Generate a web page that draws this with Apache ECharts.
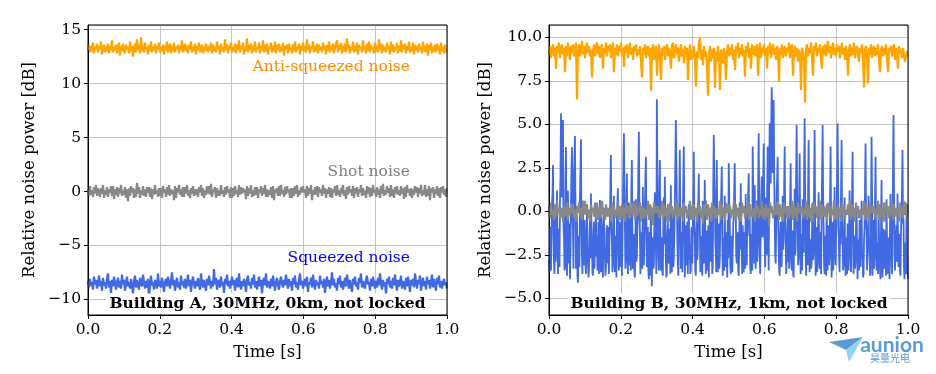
<!DOCTYPE html>
<html>
<head>
<meta charset="utf-8">
<script src="https://cdn.jsdelivr.net/npm/echarts@6/dist/echarts.min.js"></script>
<style>html,body{margin:0;padding:0;background:#fff;}#c{width:936px;height:374px;}</style>
</head>
<body>
<div id="c"></div>
<script>
// ---------- data ----------
const xTicks = [0, 0.2, 0.4, 0.6, 0.8, 1.0];
const yTicksA = [-10, -5, 0, 5, 10, 15];
const yTicksB = [-5, -2.5, 0, 2.5, 5, 7.5, 10];

// Building A – anti-squeezed noise [dB]
const antiA = [
13.1,13.6,12.9,13.5,13.0,13.8,12.8,13.4,13.2,13.7,12.9,13.5,
13.2,13.9,12.7,13.3,13.6,12.9,13.4,13.0,13.7,12.8,13.5,13.1,
14.0,12.9,13.4,13.1,13.6,12.8,13.3,13.8,12.6,13.5,13.0,13.7,
13.1,12.8,13.6,13.2,13.4,12.8,13.9,13.0,13.5,12.5,13.3,13.7,
12.9,14.1,13.1,13.6,12.8,14.3,13.0,13.5,12.9,13.8,13.2,13.4,
12.7,13.6,13.0,13.9,12.9,13.4,13.1,13.7,12.8,13.5,13.2,13.8,
12.9,13.4,13.0,13.6,12.7,13.5,13.1,13.9,12.9,13.3,13.7,12.8,
13.5,13.0,13.8,12.9,13.4,13.2,13.6,12.8,13.5,13.1,14.0,12.9,
13.3,13.7,13.0,13.5,12.8,13.6,13.2,13.9,12.9,13.4,13.0,13.7,
12.7,13.5,13.1,13.8,12.9,13.3,13.6,12.8,13.4,13.0,13.7,13.2,
12.9,13.5,13.1,13.8,12.8,13.6,13.0,13.4,12.9,13.9,13.2,13.5,
12.7,13.7,13.0,13.4,12.9,14.1,13.1,13.6,12.8,13.5,13.2,13.8,
12.9,13.4,13.0,13.7,12.8,13.6,13.1,14.0,12.9,13.5,13.2,13.8,
12.7,13.4,13.0,14.2,12.9,13.6,13.1,13.7,12.8,13.5,13.0,13.9,
12.9,13.4,13.2,13.8,12.8,13.5,13.1,14.0,12.9,13.6,13.0,13.7,
12.7,13.4,13.2,13.8,12.9,13.5,13.0,13.9,12.8,13.6,13.1,13.7,
12.9,13.4,13.0,13.8,12.6,13.5,13.2,13.6,12.8,13.7,13.1,13.3,
12.8,13.6,13.0,13.9,12.9,13.4,13.2,13.7,12.7,13.5,13.1,13.8,
13.0,13.5,12.9,14.1,13.1,13.6,12.8,13.4,13.2,13.9,12.9,13.5,
13.0,13.7,12.8,13.6,13.1,13.4,12.9,13.8,13.2,13.5,12.7,13.6,
13.0,13.9,12.9,13.5,13.1,13.7,12.8,13.4,13.3,14.0,12.9,13.6,
13.1,13.8,12.8,13.5,13.0,13.7,12.9,14.2,13.2,13.6,12.8,13.4,
13.1,13.9,12.9,13.5,13.0,13.8,12.7,13.6,13.2,13.4,12.9,14.0,
13.1,13.5,12.8,13.7,13.0,13.9,12.9,13.6,13.2,13.4,12.8,13.8,
13.0,13.5,12.9,14.1,13.1,13.7,12.8,13.6,13.0,13.4,12.9,13.8,
13.2,13.5,12.7,13.9,13.0,13.6,12.9,13.4,13.1,13.8,12.8,13.5,
13.0,14.0,12.9,13.6,13.2,13.7,12.8,13.5,13.1,13.9,12.9,13.4,
13.0,13.8,12.7,13.6,13.1,13.5,12.9,13.7,13.2,13.4,12.8,13.9,
13.0,13.5,12.9,13.7,12.6,13.6,13.1,13.8,12.8,13.4,13.0,13.6,
12.9,13.7,13.1,13.5,12.7,13.8,13.0,13.4,12.8,13.6,12.9,13.2];

// Building A – shot noise [dB]
const shotA = [
0.2,-0.4,0.5,-0.3,0.1,-0.5,0.4,-0.2,0.6,-0.4,0.3,-0.1,
-0.5,0.3,-0.2,0.6,-0.6,0.1,-0.3,0.4,-0.5,0.2,-0.1,0.5,
-0.4,0.5,-0.7,0.2,-0.3,0.4,-0.5,0.3,-0.2,0.6,-0.4,0.1,
-0.3,0.4,-0.6,0.2,-0.9,0.3,-0.4,0.5,-0.1,0.3,-0.6,0.2,
-0.5,0.8,-0.2,0.4,-0.6,0.1,-0.3,0.5,-0.4,0.2,-0.5,0.4,
-0.1,0.4,-0.5,0.3,-0.7,0.2,-0.3,0.6,-0.2,0.1,-0.5,0.3,
-0.4,0.3,-0.6,0.5,-0.1,0.2,-0.5,0.4,-0.3,0.6,-0.4,0.2,
-0.2,0.1,-0.8,0.5,-0.6,0.3,-0.1,0.6,-0.3,0.2,-0.5,0.4,
-0.5,0.4,-0.2,0.6,-0.4,0.1,-0.6,0.3,-0.2,0.5,-0.4,0.2,
-0.3,0.2,-0.5,0.4,-0.1,0.6,-0.4,0.3,-0.6,0.1,-0.3,0.5,
-0.2,0.5,-0.3,0.7,-0.5,0.2,-0.1,0.4,-0.6,0.3,-0.4,0.1,
-0.4,0.6,-0.2,0.1,-0.5,0.4,-0.3,0.5,-0.1,0.2,-0.6,0.4,
-0.6,0.3,-0.4,0.5,-0.2,0.1,-0.5,0.6,-0.3,0.4,-0.2,0.3,
-0.1,0.2,-0.7,0.5,-0.4,0.3,-0.2,0.6,-0.5,0.1,-0.4,0.4,
-0.3,0.4,-0.6,0.2,-0.1,0.5,-0.4,0.3,-0.2,0.6,-0.5,0.2,
-0.5,0.1,-0.3,0.4,-0.6,0.5,-0.8,0.2,-0.1,0.3,-0.4,0.5,
-0.4,0.6,-0.2,0.1,-0.5,0.4,-0.3,0.5,-0.1,0.2,-0.6,0.3,
-0.6,0.3,-0.4,0.5,-0.2,0.6,-0.5,0.1,-0.3,0.4,-0.1,0.5,
-0.1,0.2,-0.6,0.5,-0.4,0.3,-0.2,0.6,-0.8,0.1,-0.3,0.4,
-0.3,0.5,-0.5,0.4,-0.1,0.2,-0.4,0.6,-0.2,0.3,-0.6,0.2,
-0.2,0.4,-0.5,0.3,-0.6,0.2,-0.1,0.5,-0.4,0.6,-0.3,0.1,
-0.5,0.3,-0.2,0.6,-0.4,0.1,-0.7,0.4,-0.3,0.5,-0.1,0.2,
-0.4,0.5,-0.6,0.3,-0.2,0.4,-0.5,0.2,-0.1,0.6,-0.4,0.3,
-0.3,0.1,-0.6,0.5,-0.2,0.4,-0.5,0.3,-0.4,0.6,-0.1,0.2,
-0.5,0.4,-0.3,0.2,-0.6,0.5,-0.2,0.7,-0.4,0.1,-0.3,0.5,
-0.1,0.3,-0.5,0.6,-0.4,0.2,-0.6,0.4,-0.2,0.5,-0.3,0.1,
-0.4,0.5,-0.2,0.3,-0.7,0.4,-0.5,0.6,-0.1,0.2,-0.4,0.3,
-0.6,0.2,-0.3,0.5,-0.1,0.4,-0.5,0.3,-0.2,0.6,-0.4,0.1,
-0.3,0.6,-0.5,0.2,-0.4,0.5,-0.8,0.3,-0.1,0.4,-0.6,0.2,
-0.2,0.5,-0.4,0.3,-0.6,0.4,-0.1,0.5,-0.3,0.2,-0.5,0.3];

// Building A – squeezed noise [dB]
const sqzA = [
-8.3,-8.9,-8.1,-8.7,-8.4,-9.1,-7.9,-8.6,-8.2,-9.0,-8.5,-7.8,
-8.8,-8.3,-9.2,-8.0,-8.7,-8.4,-9.0,-8.1,-7.6,-8.9,-8.3,-9.4,
-8.2,-8.8,-7.9,-8.5,-9.1,-8.4,-8.0,-8.9,-8.3,-9.0,-7.7,-8.6,
-8.2,-9.2,-8.5,-7.9,-8.8,-8.4,-9.0,-8.1,-8.7,-9.5,-8.3,-7.8,
-8.9,-8.2,-8.7,-9.1,-8.0,-8.5,-8.8,-7.7,-8.4,-9.0,-8.3,-8.9,
-8.1,-10.0,-8.6,-7.8,-8.7,-8.4,-9.1,-8.2,-8.5,-9.0,-7.6,-8.8,
-8.3,-8.9,-8.0,-8.6,-9.3,-8.4,-8.1,-8.8,-7.9,-8.5,-9.0,-8.3,
-7.5,-8.7,-8.2,-9.2,-8.6,-8.0,-8.9,-8.4,-9.1,-7.8,-8.7,-8.3,
-8.9,-8.1,-9.0,-8.5,-7.7,-8.8,-8.2,-9.3,-8.4,-7.9,-8.6,-9.0,
-8.3,-8.8,-8.0,-8.7,-9.1,-7.6,-8.5,-8.9,-8.2,-8.6,-9.2,-8.1,
-8.7,-7.8,-8.4,-9.0,-8.3,-8.8,-7.2,-8.6,-8.0,-9.1,-8.5,-8.2,
-8.9,-7.9,-8.7,-8.4,-9.4,-8.1,-8.6,-7.7,-8.8,-8.3,-9.0,-8.5,
-7.9,-8.7,-8.2,-9.2,-8.4,-8.0,-8.9,-7.6,-8.6,-9.1,-8.3,-8.8,
-8.1,-8.5,-9.3,-8.2,-7.8,-8.7,-8.4,-9.0,-8.0,-8.6,-7.7,-8.9,
-8.3,-9.1,-8.5,-7.9,-8.8,-8.2,-9.5,-8.4,-8.0,-8.7,-7.6,-8.9,
-8.3,-8.6,-9.0,-8.1,-8.8,-7.8,-8.5,-9.2,-8.4,-8.0,-8.7,-9.1,
-8.3,-7.9,-8.6,-8.9,-8.2,-8.7,-7.7,-8.5,-9.0,-8.1,-8.8,-8.3,
-9.2,-8.0,-8.6,-7.8,-8.9,-8.4,-9.1,-8.2,-7.6,-8.7,-8.3,-9.0,
-8.5,-8.1,-8.8,-7.9,-9.3,-8.4,-8.6,-8.0,-8.9,-7.7,-8.5,-9.1,
-8.2,-8.7,-8.4,-9.0,-7.8,-8.6,-8.3,-8.9,-8.1,-9.4,-8.5,-7.9,
-8.8,-8.2,-9.0,-8.4,-7.5,-8.7,-8.1,-8.9,-8.5,-9.2,-8.0,-8.6,
-7.8,-8.9,-8.3,-9.1,-8.6,-8.0,-8.8,-7.7,-8.4,-9.0,-8.2,-8.7,
-9.3,-8.1,-8.6,-7.9,-8.8,-8.4,-9.1,-8.0,-8.5,-7.6,-8.9,-8.3,
-8.7,-9.0,-8.2,-7.8,-8.6,-8.4,-9.2,-8.1,-8.8,-7.9,-8.5,-9.0,
-8.3,-8.9,-8.0,-8.7,-7.6,-8.5,-9.1,-8.2,-8.8,-8.4,-9.6,-8.1,
-8.6,-7.9,-8.9,-8.3,-9.0,-8.0,-8.7,-7.7,-8.5,-9.2,-8.2,-8.8,
-8.4,-7.8,-9.0,-8.3,-8.6,-9.1,-8.0,-8.8,-7.9,-8.5,-9.3,-8.2,
-8.7,-8.1,-8.9,-7.6,-8.4,-9.0,-8.2,-8.6,-7.8,-9.2,-8.5,-8.0,
-8.8,-8.3,-9.1,-7.9,-8.6,-8.2,-9.0,-8.4,-7.7,-8.9,-8.1,-8.7,
-9.2,-8.0,-8.6,-7.8,-8.9,-8.3,-9.0,-8.5,-8.1,-8.7,-8.4,-9.0];

// Building B – anti-squeezed noise [dB]
const antiB = [
9.0,9.5,8.8,9.3,9.6,8.9,9.4,8.2,9.5,9.1,9.7,8.8,
9.3,9.6,9.0,9.4,8.0,9.5,8.9,9.7,9.2,8.7,9.5,9.1,
9.6,8.9,9.3,9.7,6.45,9.2,9.6,8.9,9.4,9.8,9.0,9.5,
8.8,9.4,9.7,9.1,9.5,8.9,9.3,7.7,9.2,9.6,8.9,9.4,
9.7,9.0,9.5,8.8,9.3,9.6,8.2,9.4,9.1,9.7,8.9,9.5,
9.2,9.6,8.8,9.3,9.7,8.0,9.4,9.0,9.6,8.9,9.5,9.2,
9.7,8.9,9.4,8.3,9.5,9.1,9.6,8.8,9.3,9.7,9.0,9.4,
8.7,9.5,9.2,9.6,8.9,9.3,9.0,9.5,8.6,7.7,9.4,9.0,
9.6,8.8,9.3,9.5,8.9,9.4,6.93,9.2,9.6,8.7,9.3,9.5,
7.8,9.1,9.6,8.8,7.55,9.4,9.0,9.5,8.7,9.3,9.6,8.9,
9.4,9.1,8.2,9.5,9.7,8.8,9.3,9.6,9.0,9.4,8.6,9.2,
9.6,8.9,9.3,8.5,9.5,9.0,9.4,7.55,9.1,9.6,8.7,9.3,
8.8,9.5,8.5,7.16,9.2,8.8,9.6,10.0,8.7,9.3,8.4,9.5,
8.9,9.2,8.3,6.64,9.1,9.5,8.6,9.3,8.8,9.4,7.09,9.2,
8.6,9.5,8.9,6.97,9.3,9.0,8.5,9.4,8.8,7.55,9.2,9.6,
8.9,9.4,9.0,9.6,8.7,9.3,8.12,9.5,9.1,9.7,8.8,9.4,
9.0,9.6,8.9,9.3,7.74,9.5,9.1,9.7,8.8,9.4,8.2,9.6,
9.0,9.5,8.9,9.3,9.6,7.8,9.2,9.7,8.8,9.4,9.1,9.6,
8.9,9.4,8.2,9.5,9.1,9.7,8.8,9.3,9.6,9.0,9.4,8.7,
9.5,9.2,7.45,9.4,9.0,9.6,8.8,9.3,9.5,8.9,9.4,9.1,
9.7,8.8,9.3,9.6,7.8,9.2,9.5,8.9,9.4,8.6,9.3,9.0,
6.97,9.4,9.1,8.7,6.26,9.3,9.6,8.9,9.4,9.1,9.7,8.8,
7.8,9.5,9.2,9.7,8.9,9.4,9.1,9.6,8.8,8.2,9.5,9.0,
9.6,8.9,9.4,9.8,9.1,9.5,8.8,9.3,9.7,9.0,9.4,8.9,
9.6,9.2,9.5,8.8,9.3,9.7,9.0,9.4,8.7,9.5,9.1,7.8,
9.3,9.6,8.9,9.4,9.0,9.7,8.8,9.3,9.5,9.0,8.6,9.4,
9.1,9.6,8.8,7.1,9.3,9.5,8.9,7.35,9.4,9.0,9.6,8.8,
9.3,9.5,8.9,9.4,9.0,9.6,8.7,8.0,9.3,9.5,8.9,9.4,
9.0,9.6,8.8,8.0,9.4,9.2,9.5,8.9,9.3,9.6,8.7,9.4,
9.0,8.2,9.5,9.1,9.3,8.8,9.4,9.0,8.6,8.5,9.2,8.9];

// Building B – squeezed noise [dB]
const sqzB = [
-2.8,-3.5,-0.9,-2.0,-3.4,-1.2,0.4,1.0,2.66,-1.5,-3.0,-3.6,-0.3,-2.9,-2.2,-0.5,1.2,-2.4,-3.6,-1.7,-1.0,-3.2,0.6,2.0,
5.63,3.1,0.8,4.0,5.25,-0.8,-1.5,-3.4,-3.2,1.5,3.7,-2.3,-3.7,-1.1,1.2,-3.0,-2.6,-0.7,-3.9,-2.1,0.3,2.5,3.7,-0.4,
-1.0,-3.3,2.2,3.0,4.33,0.5,-3.3,-1.6,-0.2,-3.7,-4.1,-2.5,-1.4,-3.2,0.9,2.4,4.14,-0.9,-2.5,-3.6,0.6,-1.9,-3.1,-0.5,
-1.8,-3.0,-3.6,-1.2,0.4,-2.5,-2.9,-3.8,-3.4,-1.4,-0.5,-2.7,1.03,-0.8,-2.0,-3.5,-3.7,-1.6,-0.6,-3.3,-3.2,-1.0,0.1,-2.6,
-1.4,-3.4,-2.7,-0.6,-3.6,-1.9,0.65,-2.2,-3.5,-0.3,-1.1,-3.1,-3.8,-1.5,0.2,-2.8,-2.4,-3.7,-3.3,-1.3,-0.8,-2.5,-3.0,-0.9,
-3.6,-1.8,-0.4,1.6,3.24,-0.9,-1.6,-3.5,-3.0,-0.7,0.9,-2.6,-3.5,-1.4,-2.2,-3.8,-0.4,0.5,1.32,-2.3,-3.4,-0.6,-1.2,-3.2,
-1.9,-0.5,-3.7,-2.0,0.5,2.9,4.48,1.5,-0.7,-3.3,-2.8,0.4,2.18,-1.8,-3.6,-1.0,0.5,-3.1,-2.1,-0.4,-3.4,1.2,2.95,-1.5,
-3.3,-2.0,-1.3,-3.5,-3.8,-1.6,0.7,-2.9,-2.6,-0.9,-0.4,2.6,4.58,0.8,-1.0,-3.6,-3.5,-1.2,-2.0,-3.3,1.4,-0.6,-3.1,-1.9,
-0.2,1.8,3.14,-0.7,-3.2,-1.8,-0.9,-3.4,-3.9,-1.2,-2.4,-3.7,0.3,-2.6,-4.3,-1.5,-1.7,-3.3,-3.1,-0.4,1.1,-2.2,-2.0,-3.6,
6.44,2.5,-0.3,-2.6,-3.4,0.9,2.95,-1.2,-3.4,-2.1,-1.5,-3.5,-3.7,-0.8,0.8,-1.9,1.99,-0.5,-2.7,-3.8,-3.6,-1.4,-0.6,-3.0,
-3.0,-1.0,-1.8,-3.6,1.5,-2.3,-3.5,-0.9,-0.2,-3.2,-2.7,-1.3,0.4,2.8,5.25,3.0,1.0,-1.6,-2.9,-3.7,-1.1,0.7,3.52,-0.9,
-3.3,-2.1,-1.2,-3.5,-0.5,1.9,3.72,-1.0,-3.8,-2.4,-0.8,-3.1,-2.5,-0.6,-3.6,-1.7,0.4,-2.8,-2.0,-3.6,-3.4,-1.1,-0.9,-3.0,
-3.1,0.8,3.43,-0.6,-1.6,-3.4,-3.7,-1.5,-0.3,-2.8,-2.2,0.4,2.18,-1.1,-0.4,-3.5,-3.3,-1.4,-2.2,-3.7,0.6,-1.8,-3.0,-0.7,
1.8,-1.3,-3.6,-2.2,-1.1,-3.4,-3.0,-0.8,-3.8,-1.9,0.2,-2.9,-2.6,-0.5,-1.4,-3.6,-3.2,1.5,4.39,2.0,1.2,-1.7,-2.4,-3.5,
2.95,-0.6,-3.5,-1.6,-0.7,-3.3,-2.8,-0.9,-1.0,1.1,2.57,-1.4,-3.7,-2.0,-1.5,-3.4,0.9,-2.5,-3.2,-1.2,-2.3,-3.8,-0.5,-2.7,
2.76,0.6,-0.5,-3.1,-3.6,-1.4,-1.9,-3.5,-3.4,-0.8,-0.2,1.3,2.76,-0.4,0.3,-2.6,-3.0,-1.6,-1.2,-3.4,-3.7,-1.9,0.5,-2.2,
1.61,-1.0,-2.4,-3.6,-0.8,-2.7,-3.5,-1.2,-1.7,-3.3,1.0,-1.9,-3.1,-0.9,-0.6,1.1,2.18,-1.4,-0.2,-3.2,-3.6,-2.1,-1.3,-3.4,
3.72,0.9,-1.4,-3.0,1.5,-1.8,-3.3,-0.7,0.6,-2.9,-2.0,1.9,4.48,0.3,-2.7,-3.6,-0.9,0.8,2.0,-1.3,-1.5,1.6,3.9,0.4,
-1.8,-3.2,0.8,-1.5,-2.5,1.2,3.72,-0.9,-3.4,2.0,5.06,3.0,1.6,4.8,7.13,4.5,2.2,5.1,6.4,2.1,-0.5,-2.6,-3.0,-1.1,
1.2,2.0,3.14,-0.5,-2.1,-3.4,-3.7,-1.3,-0.6,-2.7,-3.2,-0.9,0.9,-2.2,-1.6,1.4,3.72,-0.3,-1.5,-3.6,-3.5,-1.7,-0.4,-2.9,
-0.3,-3.3,-2.8,0.5,2.76,-1.2,-3.4,-2.2,-1.1,-3.6,-3.8,-1.0,1.3,-2.5,-2.2,2.4,4.96,1.0,-0.8,-3.1,-2.6,0.8,3.33,-1.4,
-3.6,-2.0,-1.3,-3.4,0.7,-1.5,-2.4,2.6,5.34,1.0,-2.2,-3.7,-0.4,-2.6,-3.1,1.6,4.1,-0.8,-3.5,-1.9,-1.6,-3.3,-3.0,-0.6,
0.5,-2.8,-2.4,1.9,4.67,-0.4,-3.7,-1.6,-0.9,-3.5,-2.9,-0.7,1.1,-2.4,-3.3,-1.2,-1.5,-3.6,-0.2,2.2,4.96,0.9,-1.0,-3.2,
-3.6,-1.4,-2.0,-3.7,0.4,-1.9,-3.4,-0.8,-1.2,-3.1,-2.6,0.9,3.72,-1.1,-3.8,-2.2,-0.6,-3.4,-2.7,-0.9,1.4,-2.0,-3.1,-1.5,
-0.9,2.1,5.06,1.3,-0.2,-2.8,-3.5,-1.0,-1.9,1.5,4.1,-0.6,-1.7,-3.4,-3.0,-0.9,0.8,-2.4,-3.7,-1.5,-2.3,-3.6,-0.7,-2.9,
-3.4,-1.2,1.2,-2.0,-2.6,-3.5,-0.8,1.0,3.43,-0.7,-3.6,-2.3,-1.4,-3.3,-2.8,-0.6,0.3,-2.1,-3.9,-1.6,-1.9,-3.4,-0.5,-2.8,
-3.2,-1.3,0.6,-2.7,-2.5,-3.8,-3.6,-1.5,-1.0,1.6,3.9,-0.5,-1.1,-3.4,-3.3,-1.8,0.9,-2.3,-2.0,-3.7,-3.5,0.2,4.29,1.1,
-3.7,-2.1,-0.5,-3.3,-2.6,0.6,3.14,-1.2,-3.4,-2.5,-1.8,-3.6,0.4,-1.4,-2.4,-3.5,-3.9,-0.8,1.8,-1.7,-3.8,-2.6,-1.0,-3.3,
-3.0,-1.1,-2.2,-3.7,0.7,-1.8,-3.6,-2.4,-1.5,-3.2,-3.9,-0.9,1.0,-2.1,-2.8,-3.6,-0.6,2.5,5.54,1.2,-2.4,-3.4,-3.5,-1.3,
-0.8,-2.9,1.03,-1.6,-3.2,-2.2,-1.3,-3.5,-3.7,-1.0,-0.2,1.2,3.52,-0.7,-0.4,-3.3,-3.9,-1.8,-2.1,-3.6,0.2,-2.4,-3.6,-3.9];

// Building B – shot noise [dB]
const shotB = [
0.3,-0.4,0.5,-0.2,0.1,-0.5,0.4,-0.3,0.6,-0.1,0.2,-0.4,
-0.3,0.2,-0.6,0.3,0.0,-0.3,0.5,-0.5,0.2,-0.2,0.4,-0.1,
0.4,-0.4,0.1,-0.6,0.3,-0.1,0.5,-0.3,0.2,-0.5,0.6,-0.2,
0.6,-0.2,0.3,-0.4,0.1,-0.6,0.4,-0.1,0.2,-0.3,0.5,-0.4,
0.5,-0.5,0.0,0.3,-0.4,0.6,-0.2,0.1,-0.5,0.4,-0.3,0.2,
-0.3,0.2,-0.6,0.5,-0.1,0.3,-0.4,0.1,-0.2,0.6,-0.5,0.3,
-0.5,0.4,-0.3,0.2,-0.6,0.5,-0.1,0.3,-0.4,0.1,-0.2,0.5,
-0.2,0.6,-0.5,0.4,-0.3,0.2,-0.1,0.5,-0.6,0.3,-0.4,0.2,
-0.4,0.1,-0.2,0.6,-0.5,0.4,-0.3,0.2,-0.8,0.5,-0.1,0.3,
-0.1,0.3,-0.4,0.1,-0.2,0.6,-0.5,0.4,-0.3,0.2,-0.6,0.4,
-0.6,0.5,-0.1,0.3,-0.4,0.1,-0.2,0.6,-0.5,0.4,-0.3,0.2,
-0.3,0.2,-0.6,0.5,-0.1,0.3,-0.4,0.1,-0.2,0.6,-0.5,0.3,
-0.5,0.4,-0.3,0.2,-0.6,0.5,-0.1,0.3,-0.4,0.1,-0.7,0.4,
-0.2,0.6,-0.5,0.4,-0.3,0.2,-0.6,0.5,-0.1,0.3,-0.4,0.2,
-0.4,0.1,-0.2,0.6,-0.5,0.4,-0.3,0.2,-0.6,0.5,-0.1,0.4,
-0.1,0.3,-0.4,0.1,-0.2,0.6,-0.5,0.4,-0.3,0.2,-0.5,0.3,
-0.6,0.5,-0.1,0.3,-0.4,0.1,-0.2,0.6,-0.5,0.4,-0.3,0.1,
-0.3,0.2,-0.6,0.5,-0.1,0.3,-0.4,0.1,-0.2,0.6,-0.4,0.2,
-0.5,0.4,-0.3,0.2,-0.8,0.5,-0.1,0.3,-0.4,0.1,-0.2,0.5,
-0.2,0.6,-0.5,0.4,-0.3,0.2,-0.6,0.5,-0.1,0.3,-0.4,0.3,
-0.4,0.1,-0.2,0.6,-0.5,0.4,-0.3,0.2,-0.6,0.5,-0.1,0.2,
-0.1,0.3,-0.4,0.1,-0.2,0.6,-0.5,0.4,-0.3,0.2,-0.6,0.4,
-0.6,0.5,-0.1,0.3,-0.4,0.1,-0.2,0.6,-0.5,0.4,-0.3,0.3,
-0.3,0.2,-0.6,0.5,-0.1,0.3,-0.4,0.1,-0.2,0.6,-0.5,0.2,
-0.5,0.4,-0.3,0.2,-0.6,0.5,-0.1,0.3,-0.4,0.1,-0.2,0.4,
-0.2,0.6,-0.5,0.4,-0.3,0.2,-0.6,0.5,-0.1,0.3,-0.4,0.1,
-0.4,0.1,-0.2,0.6,-0.5,0.4,-0.3,0.2,-0.6,0.5,-0.1,0.3,
-0.1,0.3,-0.4,0.1,-0.2,0.6,-0.5,0.4,-0.3,0.2,-0.6,0.5,
-0.6,0.5,-0.1,0.3,-0.4,0.1,-0.2,0.6,-0.5,0.4,-0.3,0.2,
-0.3,0.2,-0.6,0.5,-0.1,0.3,-0.4,0.6,-0.2,0.5,-0.4,0.4];

const labelsA = ['Anti-squeezed noise', 'Shot noise', 'Squeezed noise'];
const titleA = 'Building A, 30MHz, 0km, not locked';
const titleB = 'Building B, 30MHz, 1km, not locked';

// ---------- build ----------
const FONT = 'DejaVu Serif';
const FS = 15.5;
const NFS = 16.5;
function pairs(vals) {
  const n = vals.length;
  return vals.map((v, i) => [i / (n - 1), v]);
}
function minusFmt(dec) {
  return function (v) {
    const s = Math.abs(v).toFixed(dec);
    return v < 0 ? '\u2212' + s : s;
  };
}
function xAxis(gi) {
  return {
    type: 'value', gridIndex: gi, min: xTicks[0], max: xTicks[xTicks.length - 1], interval: xTicks[1] - xTicks[0],
    name: 'Time [s]', nameLocation: 'middle', nameGap: 29,
    nameTextStyle: { fontFamily: FONT, fontSize: NFS, color: '#000' },
    axisLine: { show: true, onZero: false, lineStyle: { color: '#000', width: 1 } },
    axisTick: { show: true, inside: false, length: 4, lineStyle: { color: '#000' } },
    axisLabel: { fontFamily: FONT, fontSize: FS, color: '#000', margin: 7, formatter: v => v.toFixed(1) },
    splitLine: { show: true, lineStyle: { color: '#c4c4c4', width: 1 } }
  };
}
function yAxis(gi, min, max, ticks, dec, gap) {
  const step = ticks[1] - ticks[0];
  return {
    type: 'value', gridIndex: gi, min: min, max: max, minInterval: step, maxInterval: step,
    name: 'Relative noise power [dB]', nameLocation: 'middle', nameGap: gap, nameRotate: 90,
    nameTextStyle: { fontFamily: FONT, fontSize: NFS, color: '#000' },
    axisLine: { show: true, onZero: false, lineStyle: { color: '#000', width: 1 } },
    axisTick: { show: true, inside: false, length: 4, lineStyle: { color: '#000' } },
    axisLabel: { fontFamily: FONT, fontSize: FS, color: '#000', margin: 7, formatter: minusFmt(dec),
      showMinLabel: false, showMaxLabel: false },
    splitLine: { show: true, lineStyle: { color: '#c4c4c4', width: 1 } }
  };
}
function line(gi, vals, color, z, w) {
  return {
    type: 'line', xAxisIndex: gi, yAxisIndex: gi, data: pairs(vals),
    showSymbol: false, symbol: 'none', smooth: false, z: z, sampling: null,
    lineStyle: { color: color, width: w, join: 'miter', miterLimit: 2 }, itemStyle: { color: color },
    emphasis: { disabled: true }, silent: true
  };
}

const chart = echarts.init(document.getElementById('c'), null, { renderer: 'canvas' });
chart.setOption({
  animation: false,
  backgroundColor: '#fff',
  grid: [
    { left: 88, right: 489, top: 25, bottom: 59, show: true, borderColor: '#000', borderWidth: 1, backgroundColor: 'transparent', z: 10 },
    { left: 549, right: 28, top: 25, bottom: 59, show: true, borderColor: '#000', borderWidth: 1, backgroundColor: 'transparent', z: 10 }
  ],
  xAxis: [xAxis(0), xAxis(1)],
  yAxis: [yAxis(0, -11.45, 15.43, yTicksA, 0, 50), yAxis(1, -5.96, 10.71, yTicksB, 1, 55)],
  series: [
    line(0, antiA, '#FFA500', 3, 2.2),
    line(0, shotA, '#888888', 3, 2.2),
    line(0, sqzA, '#4169E1', 3, 2.2),
    line(1, antiB, '#FFA500', 3, 2.2),
    line(1, sqzB, '#4169E1', 3, 1.8),
    line(1, shotB, '#888888', 4, 2.2)
  ],
  graphic: [
    { type: 'text', x: 410, y: 66.5, z: 20, style: { text: labelsA[0], fill: '#FF8C00', font: FS + 'px "' + FONT + '"', align: 'right', verticalAlign: 'middle' } },
    { type: 'text', x: 410, y: 172, z: 20, style: { text: labelsA[1], fill: '#808080', font: FS + 'px "' + FONT + '"', align: 'right', verticalAlign: 'middle' } },
    { type: 'text', x: 410, y: 257.5, z: 20, style: { text: labelsA[2], fill: '#0000FF', font: FS + 'px "' + FONT + '"', align: 'right', verticalAlign: 'middle' } },
    { type: 'text', x: 267.5, y: 303.5, z: 20, style: { text: titleA, fill: '#000', font: 'bold 15.5px "' + FONT + '"', align: 'center', verticalAlign: 'middle', backgroundColor: '#fff', padding: [2, 3] } },
    { type: 'text', x: 729, y: 303.5, z: 20, style: { text: titleB, fill: '#000', font: 'bold 15.5px "' + FONT + '"', align: 'center', verticalAlign: 'middle', backgroundColor: '#fff', padding: [2, 3] } },
    { type: 'polygon', z: 30, shape: { points: [[829, 342], [863, 337], [846, 350]] }, style: { fill: '#5b9bd5' } },
    { type: 'polygon', z: 30, shape: { points: [[846, 350], [863, 337], [849, 362]] }, style: { fill: '#8fd3f0' } },
    { type: 'text', x: 892, y: 345, z: 30, style: { text: 'aunion', fill: '#5b9bd5', font: 'bold 21px Lato', align: 'center', verticalAlign: 'middle' } },
    { type: 'text', x: 890, y: 358, z: 30, style: { text: '昊量光电', fill: '#5b9bd5', font: '10px "Noto Sans CJK SC"', align: 'center', verticalAlign: 'middle' } }
  ]
});
</script>
</body>
</html>
